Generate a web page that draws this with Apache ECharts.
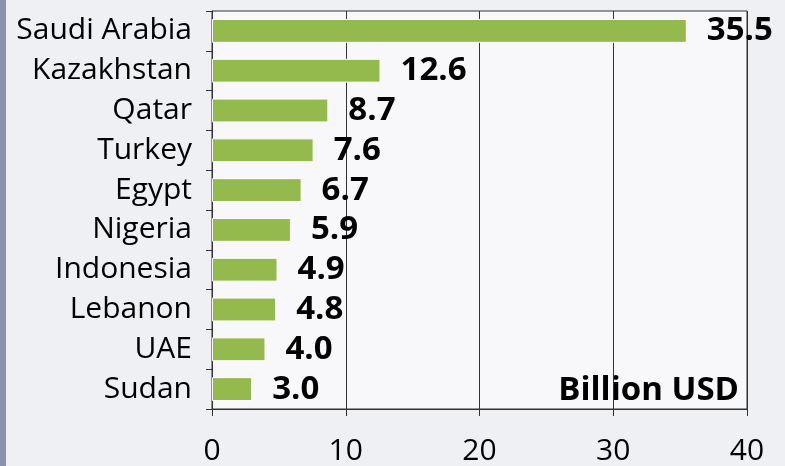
<!DOCTYPE html>
<html>
<head>
<meta charset="utf-8">
<script src="https://cdn.jsdelivr.net/npm/echarts@6/dist/echarts.min.js"></script>
<style>
  html, body { margin: 0; padding: 0; }
  body { width: 785px; height: 466px; background: #eff0f4; position: relative; overflow: hidden; }
  #strip { position: absolute; left: 0; top: 0; width: 6px; height: 466px; background: #8a92aa; }
  #chart { position: absolute; left: 0; top: 0; width: 785px; height: 466px; }
</style>
</head>
<body>
<div id="strip"></div>
<div id="chart"></div>
<script>
// Countries, top to bottom
const countries = ['Saudi Arabia', 'Kazakhstan', 'Qatar', 'Turkey', 'Egypt', 'Nigeria', 'Indonesia', 'Lebanon', 'UAE', 'Sudan'];
// Amounts in billion USD
const amounts = [35.5, 12.6, 8.7, 7.6, 6.7, 5.9, 4.9, 4.8, 4.0, 3.0];
// Value axis ticks
const xTicks = [0, 10, 20, 30, 40];

const FONT = '"Open Sans", "Noto Sans", sans-serif';

const chart = echarts.init(document.getElementById('chart'), null, { renderer: 'canvas' });
chart.setOption({
  animation: false,
  backgroundColor: 'transparent',
  grid: {
    left: 212, right: 38, top: 11, bottom: 51,
    show: true, backgroundColor: '#f8f8fa', borderColor: '#333', borderWidth: 1
  },
  xAxis: {
    type: 'value',
    min: xTicks[0], max: xTicks[xTicks.length - 1], interval: 10,
    axisLine: { show: true, lineStyle: { color: '#333', width: 1 } },
    axisTick: { show: true, length: 7, lineStyle: { color: '#333' } },
    splitLine: { show: true, lineStyle: { color: '#333', width: 1 } },
    axisLabel: { color: '#000', fontFamily: FONT, fontSize: 30, margin: 27 }
  },
  yAxis: {
    type: 'category',
    data: countries,
    inverse: true,
    axisLine: { show: true, lineStyle: { color: '#333', width: 1 } },
    axisTick: { show: true, length: 6, inside: false, lineStyle: { color: '#333' } },
    axisLabel: { color: '#000', fontFamily: FONT, fontSize: 30, margin: 20 }
  },
  series: [{
    type: 'bar',
    data: amounts,
    barCategoryGap: '40%',
    itemStyle: { color: '#94b94c', borderColor: '#ffffff', borderWidth: 1 },
    label: {
      show: true, position: 'right', distance: 20,
      color: '#000', fontFamily: FONT, fontWeight: 'bold', fontSize: 33,
      formatter: p => p.value.toFixed(1)
    }
  }],
  graphic: [{
    type: 'text',
    x: 739, y: 391,
    style: { text: 'Billion USD', fill: '#000', font: 'bold 33px ' + FONT, textAlign: 'right', textVerticalAlign: 'middle' }
  }]
});
</script>
</body>
</html>
